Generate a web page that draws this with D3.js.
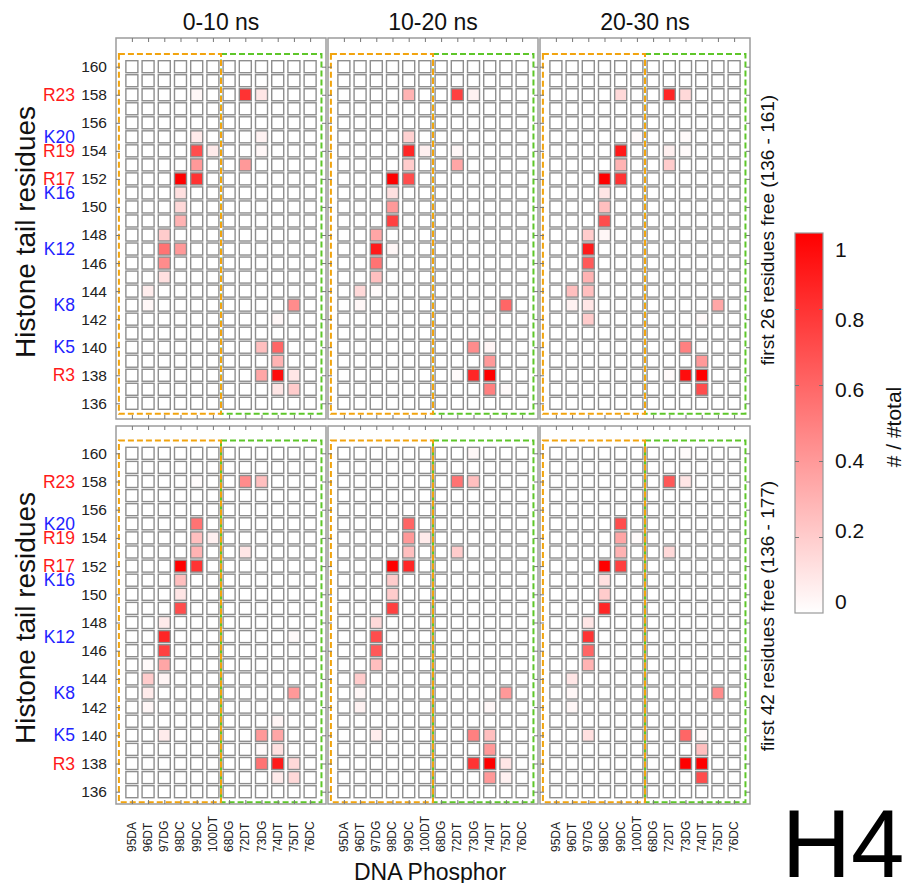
<!DOCTYPE html>
<html>
<head>
<meta charset="utf-8">
<script src="https://cdn.jsdelivr.net/npm/d3@7"></script>
<style>
  html, body { margin: 0; padding: 0; background: #ffffff; }
  svg { display: block; font-family: "Liberation Sans", Arial, sans-serif; }
</style>
</head>
<body>
<svg id="chart" width="905" height="883"></svg>
<script>
// ---- categories ----
const phosphors = ["95DA", "96DT", "97DG", "98DC", "99DC", "100DT", "68DG", "72DT", "73DG", "74DT", "75DT", "76DC"];
const residues = [136, 137, 138, 139, 140, 141, 142, 143, 144, 145, 146, 147, 148, 149, 150, 151, 152, 153, 154, 155, 156, 157, 158, 159, 160];
const residueTicks = [136, 138, 140, 142, 144, 146, 148, 150, 152, 154, 156, 158, 160];
const timeWindows = ["0-10 ns", "10-20 ns", "20-30 ns"];
const tailNames = ["R23", "K20", "R19", "R17", "K16", "K12", "K8", "K5", "R3"];
const tailResidues = [158, 155, 154, 152, 151, 147, 143, 140, 138];
const freeLabels = ["first 26 residues free (136 - 161)", "first 42 residues free (136 - 177)"];
const colorTicks = [0, 0.2, 0.4, 0.6, 0.8, 1];

// ---- contact fractions: [residue, phosphor, # / #total]; unlisted cells are 0 ----
const free26_0_10 = [
  [158, "99DC", 0.03], [158, "72DT", 0.8], [158, "73DG", 0.1],
  [155, "99DC", 0.08], [155, "73DG", 0.05],
  [154, "99DC", 0.7], [154, "100DT", 0.08], [154, "73DG", 0.03],
  [153, "99DC", 0.4], [153, "72DT", 0.4],
  [152, "98DC", 1.0], [152, "99DC", 0.8],
  [151, "98DC", 0.12], [150, "98DC", 0.15], [149, "98DC", 0.3],
  [148, "97DG", 0.2],
  [147, "97DG", 0.55], [147, "98DC", 0.4],
  [146, "97DG", 0.45], [145, "97DG", 0.12],
  [144, "96DT", 0.07],
  [143, "96DT", 0.03], [143, "75DT", 0.45],
  [142, "74DT", 0.03],
  [140, "73DG", 0.25], [140, "74DT", 0.6],
  [139, "74DT", 0.3],
  [138, "73DG", 0.35], [138, "74DT", 0.95], [138, "75DT", 0.1],
  [137, "74DT", 0.1], [137, "75DT", 0.2]
];
const free26_10_20 = [
  [158, "99DC", 0.3], [158, "72DT", 0.75], [158, "73DG", 0.05],
  [155, "99DC", 0.18],
  [154, "99DC", 0.85], [154, "100DT", 0.06], [154, "72DT", 0.03],
  [153, "99DC", 0.2], [153, "72DT", 0.35],
  [152, "98DC", 1.0], [152, "99DC", 0.7],
  [151, "98DC", 0.12], [150, "98DC", 0.4], [149, "98DC", 0.75],
  [148, "97DG", 0.35],
  [147, "97DG", 0.9], [147, "98DC", 0.03],
  [146, "97DG", 0.55], [145, "97DG", 0.25],
  [144, "96DT", 0.15], [144, "97DG", 0.02],
  [143, "96DT", 0.03], [143, "75DT", 0.6],
  [142, "74DT", 0.01],
  [140, "73DG", 0.45], [140, "74DT", 0.04],
  [139, "74DT", 0.4],
  [138, "72DT", 0.02], [138, "73DG", 0.85], [138, "74DT", 1.0],
  [137, "74DT", 0.5], [137, "75DT", 0.02]
];
const free26_20_30 = [
  [158, "99DC", 0.15], [158, "72DT", 0.85], [158, "73DG", 0.15],
  [155, "100DT", 0.02], [155, "73DG", 0.02],
  [154, "99DC", 0.9], [154, "72DT", 0.06], [154, "73DG", 0.02],
  [153, "99DC", 0.3], [153, "72DT", 0.2],
  [152, "98DC", 1.0], [152, "99DC", 0.8],
  [151, "98DC", 0.1], [150, "98DC", 0.25], [149, "98DC", 0.7],
  [148, "97DG", 0.2], [148, "98DC", 0.03],
  [147, "97DG", 0.9],
  [146, "97DG", 0.65], [145, "97DG", 0.3],
  [144, "96DT", 0.25], [144, "97DG", 0.25],
  [143, "96DT", 0.05], [143, "97DG", 0.1], [143, "75DT", 0.35],
  [142, "97DG", 0.2], [142, "74DT", 0.02],
  [140, "73DG", 0.5],
  [139, "74DT", 0.4],
  [138, "72DT", 0.02], [138, "73DG", 0.95], [138, "74DT", 1.0],
  [137, "74DT", 0.7]
];
const free42_0_10 = [
  [158, "99DC", 0.01], [158, "72DT", 0.45], [158, "73DG", 0.25],
  [155, "99DC", 0.55],
  [154, "99DC", 0.25], [154, "100DT", 0.06],
  [153, "99DC", 0.3], [153, "72DT", 0.1],
  [152, "98DC", 1.0], [152, "99DC", 0.8],
  [151, "98DC", 0.25], [150, "98DC", 0.1], [149, "98DC", 0.7],
  [148, "97DG", 0.08],
  [147, "97DG", 0.85], [147, "75DT", 0.02],
  [146, "97DG", 0.75],
  [145, "96DT", 0.02], [145, "97DG", 0.35],
  [144, "96DT", 0.2], [144, "97DG", 0.04],
  [143, "96DT", 0.08], [143, "75DT", 0.4],
  [142, "96DT", 0.03],
  [141, "74DT", 0.04],
  [140, "97DG", 0.08], [140, "73DG", 0.4], [140, "74DT", 0.35],
  [139, "73DG", 0.02], [139, "74DT", 0.12],
  [138, "73DG", 0.55], [138, "74DT", 0.9], [138, "75DT", 0.15],
  [137, "74DT", 0.08], [137, "75DT", 0.15]
];
const free42_10_20 = [
  [160, "73DG", 0.03],
  [158, "72DT", 0.55], [158, "73DG", 0.25],
  [155, "99DC", 0.6],
  [154, "99DC", 0.4], [154, "100DT", 0.08],
  [153, "99DC", 0.25], [153, "72DT", 0.2],
  [152, "98DC", 1.0], [152, "99DC", 0.85],
  [151, "98DC", 0.2], [150, "98DC", 0.2], [149, "98DC", 0.75],
  [148, "97DG", 0.15],
  [147, "97DG", 0.7],
  [146, "97DG", 0.65], [145, "97DG", 0.25],
  [144, "96DT", 0.2],
  [143, "96DT", 0.03], [143, "75DT", 0.4],
  [142, "96DT", 0.05], [142, "74DT", 0.03],
  [140, "97DG", 0.07], [140, "73DG", 0.5], [140, "74DT", 0.25],
  [139, "74DT", 0.4],
  [138, "73DG", 0.8], [138, "74DT", 1.0], [138, "75DT", 0.1],
  [137, "74DT", 0.4], [137, "75DT", 0.05]
];
const free42_20_30 = [
  [160, "73DG", 0.02],
  [158, "72DT", 0.65], [158, "73DG", 0.1],
  [155, "99DC", 0.7],
  [154, "99DC", 0.35], [154, "100DT", 0.02],
  [153, "99DC", 0.3], [153, "72DT", 0.15],
  [152, "98DC", 1.0], [152, "99DC", 0.75],
  [151, "98DC", 0.12], [150, "98DC", 0.2], [149, "98DC", 0.85],
  [148, "97DG", 0.1],
  [147, "97DG", 0.8],
  [146, "97DG", 0.6], [145, "97DG", 0.3],
  [144, "96DT", 0.1],
  [143, "96DT", 0.03], [143, "75DT", 0.45],
  [142, "96DT", 0.03],
  [140, "97DG", 0.12], [140, "73DG", 0.6], [140, "74DT", 0.02],
  [139, "74DT", 0.25],
  [138, "73DG", 1.0], [138, "74DT", 1.0],
  [137, "74DT", 0.7]
];

const panelData = [
  [free26_0_10, free26_10_20, free26_20_30],
  [free42_0_10, free42_10_20, free42_20_30]
];

// ---- layout ----
const layout = {
  colX: [116, 328, 540],
  panelW: 210,
  rows: [
    { top: 38, bottom: 419, y136: 403.3, y160: 66.7, yTitle: 232 },
    { top: 426, bottom: 804, y136: 791.7, y160: 453.3, yTitle: 618 }
  ],
  cell: 12
};

const svg = d3.select("#chart");
const color = d3.scaleLinear().domain([0, 1]).range(["#ffffff", "#ff0000"]);
const gridStroke = "#8e8e8e";
const frameStroke = "#9c9c9c";
const tickStroke = "#777";

function styleAxis(sel) {
  sel.select(".domain").remove();
  sel.selectAll(".tick line").attr("stroke", tickStroke).attr("stroke-width", 1);
  sel.selectAll(".tick text").attr("fill", "#222").attr("font-size", 15.5)
    .attr("font-family", '"Liberation Sans", Arial, sans-serif');
}

panelData.forEach((rowSets, r) => {
  const R = layout.rows[r];
  const ys = d3.scaleLinear().domain([136, 160]).range([R.y136, R.y160]);

  rowSets.forEach((set, c) => {
    const x0 = layout.colX[c];
    const xs = d3.scaleLinear().domain([-0.98, 11.98]).range([x0, x0 + layout.panelW]);
    const g = svg.append("g");

    const lookup = new Map(set.map(d => [d[0] + "|" + d[1], d[2]]));
    const cells = [];
    residues.forEach(res => phosphors.forEach((p, i) => {
      cells.push({ res, i, v: lookup.get(res + "|" + p) || 0 });
    }));

    const half = layout.cell / 2;
    g.append("g").selectAll("rect").data(cells).join("rect")
      .attr("x", d => xs(d.i) - half)
      .attr("y", d => ys(d.res) - half)
      .attr("width", layout.cell)
      .attr("height", layout.cell)
      .attr("fill", d => color(d.v))
      .attr("stroke", gridStroke)
      .attr("stroke-width", 1.4);

    // DNA segment boxes: 95DA-100DT (orange) and 68DG-76DC (green)
    const boxTop = ys(160.9), boxBot = ys(135.25);
    g.append("rect")
      .attr("x", xs(5.5)).attr("y", boxTop)
      .attr("width", xs(11.7) - xs(5.5)).attr("height", boxBot - boxTop)
      .attr("fill", "none").attr("stroke", "#5ec62a").attr("stroke-width", 2)
      .attr("stroke-dasharray", "6,3");
    g.append("rect")
      .attr("x", xs(-0.8)).attr("y", boxTop)
      .attr("width", xs(5.5) - xs(-0.8)).attr("height", boxBot - boxTop)
      .attr("fill", "none").attr("stroke", "#f2a40e").attr("stroke-width", 2)
      .attr("stroke-dasharray", "6,3");

    // frame
    g.append("rect")
      .attr("x", x0).attr("y", R.top)
      .attr("width", layout.panelW).attr("height", R.bottom - R.top)
      .attr("fill", "none").attr("stroke", frameStroke).attr("stroke-width", 1.5);

    // inward ticks on all four sides
    const idx = phosphors.map((p, i) => i);
    g.append("g").attr("transform", `translate(${x0},0)`)
      .call(d3.axisLeft(ys).tickValues(residueTicks).tickSize(-4).tickPadding(9)
        .tickFormat(c === 0 ? d3.format("d") : () => ""))
      .call(styleAxis);
    g.append("g").attr("transform", `translate(${x0 + layout.panelW},0)`)
      .call(d3.axisRight(ys).tickValues(residueTicks).tickSize(-4).tickFormat(() => ""))
      .call(styleAxis);
    g.append("g").attr("transform", `translate(0,${R.top})`)
      .call(d3.axisTop(xs).tickValues(idx).tickSize(-4).tickFormat(() => ""))
      .call(styleAxis);
    g.append("g").attr("transform", `translate(0,${R.bottom})`)
      .call(d3.axisBottom(xs).tickValues(idx).tickSize(-4).tickFormat(() => ""))
      .call(styleAxis);

    // time window titles
    if (r === 0) {
      svg.append("text")
        .attr("x", x0 + layout.panelW / 2).attr("y", 30)
        .attr("text-anchor", "middle").attr("font-size", 23).attr("fill", "#111")
        .text(timeWindows[c]);
    }

    // phosphate labels below the lower panels
    if (r === 1) {
      svg.append("g").selectAll("text").data(phosphors).join("text")
        .attr("transform", (d, i) => `translate(${xs(i)},852) rotate(-90)`)
        .attr("text-anchor", "start").attr("dominant-baseline", "central")
        .attr("font-size", 12).attr("fill", "#222")
        .text(d => d);
    }
  });

  // tail residue names
  svg.append("g").selectAll("text").data(tailNames).join("text")
    .attr("x", 75).attr("y", (d, i) => ys(tailResidues[i]))
    .attr("text-anchor", "end").attr("dominant-baseline", "central")
    .attr("font-size", 17.5)
    .attr("fill", d => d[0] === "R" ? "#ff1a1a" : "#2222ff")
    .text(d => d);

  // y title
  svg.append("text")
    .attr("transform", `translate(35,${R.yTitle}) rotate(-90)`)
    .attr("text-anchor", "middle").attr("font-size", 28).attr("fill", "#111")
    .text("Histone tail residues");

  // right-hand annotation
  svg.append("text")
    .attr("transform", `translate(774,${R.yTitle - 2}) rotate(-90)`)
    .attr("text-anchor", "middle").attr("font-size", 19).attr("fill", "#111")
    .text(freeLabels[r]);
});

// x title
svg.append("text")
  .attr("x", 430).attr("y", 880)
  .attr("text-anchor", "middle").attr("font-size", 23).attr("fill", "#111")
  .text("DNA Phosphor");

// ---- colour bar ----
const cb = { x: 795, w: 28, top: 233, bottom: 613 };
const cScale = d3.scaleLinear().domain([0, 1]).range([cb.bottom, cb.top]);
const grad = svg.append("defs").append("linearGradient")
  .attr("id", "cbGrad").attr("x1", 0).attr("y1", 1).attr("x2", 0).attr("y2", 0);
grad.selectAll("stop").data(colorTicks).join("stop")
  .attr("offset", d => d)
  .attr("stop-color", d => color(d));
svg.append("rect")
  .attr("x", cb.x).attr("y", cb.top).attr("width", cb.w).attr("height", cb.bottom - cb.top)
  .attr("fill", "url(#cbGrad)").attr("stroke", "#999").attr("stroke-width", 1.2);
const innerTicks = colorTicks.slice(1, -1);
svg.append("g").attr("transform", `translate(${cb.x},0)`)
  .call(d3.axisLeft(cScale).tickValues(innerTicks).tickSize(-4).tickFormat(() => ""))
  .call(styleAxis);
svg.append("g").attr("transform", `translate(${cb.x + cb.w},0)`)
  .call(d3.axisRight(cScale).tickValues(innerTicks).tickSize(-4).tickFormat(() => ""))
  .call(styleAxis);
const cLabel = d3.scaleLinear().domain([0, 1]).range([601, 249]);
svg.append("g").selectAll("text").data(colorTicks).join("text")
  .attr("x", 835).attr("y", d => cLabel(d))
  .attr("dominant-baseline", "central").attr("font-size", 21).attr("fill", "#111")
  .text(d => d3.format("~g")(d));
svg.append("text")
  .attr("transform", "translate(893,427) rotate(-90)")
  .attr("text-anchor", "middle").attr("dominant-baseline", "central")
  .attr("font-size", 21).attr("fill", "#111")
  .text("# / #total");

// histone label
svg.append("text")
  .attr("x", 843).attr("y", 877)
  .attr("text-anchor", "middle").attr("font-size", 96).attr("fill", "#000")
  .text("H4");
</script>
</body>
</html>
